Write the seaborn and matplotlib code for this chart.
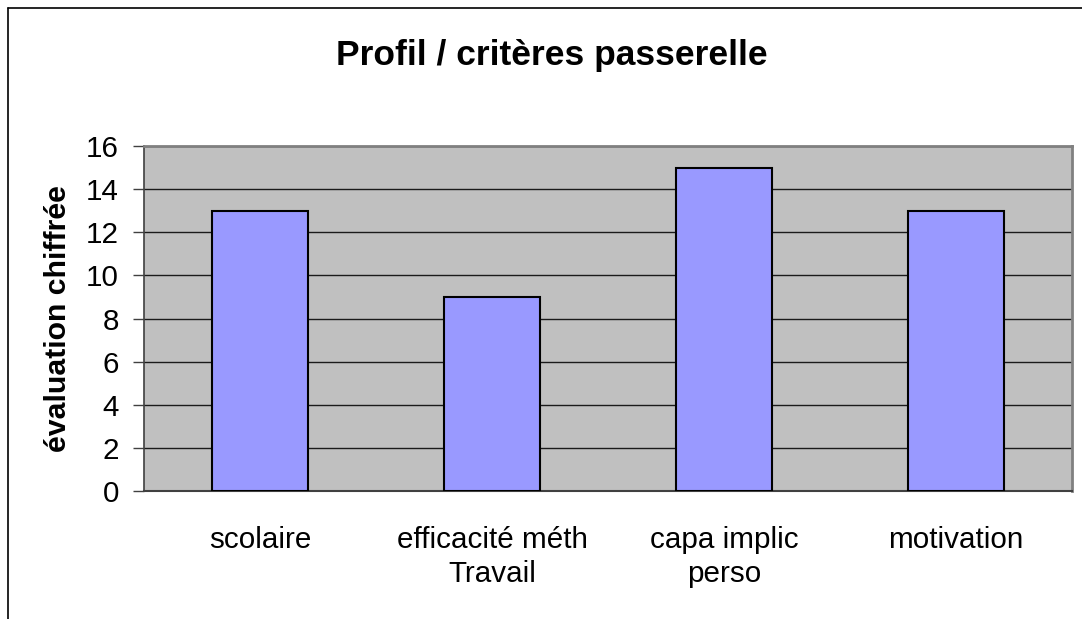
import matplotlib
matplotlib.use("Agg")
import matplotlib.pyplot as plt
from matplotlib.lines import Line2D
import seaborn as sns
import pandas as pd

categories = ["scolaire", "efficacité méth\nTravail", "capa implic\nperso", "motivation"]
values = [13, 9, 15, 13]
yticks = [0, 2, 4, 6, 8, 10, 12, 14, 16]

sns.set_style("white")
plt.rcParams["font.family"] = ["Liberation Sans", "DejaVu Sans"]
plt.rcParams["text.color"] = "black"
plt.rcParams["axes.labelcolor"] = "black"
plt.rcParams["xtick.color"] = "black"
plt.rcParams["ytick.color"] = "black"

fig = plt.figure(figsize=(10.82, 6.19), dpi=100)
ax = fig.add_axes([144 / 1082, 1 - 491 / 619, (1072 - 144) / 1082, (491 - 146) / 619])

df = pd.DataFrame({"cat": categories, "val": values})
sns.barplot(data=df, x="cat", y="val", color="#9999FF", saturation=1,
            edgecolor="black", linewidth=1.5, width=0.41, ax=ax, zorder=3)

ax.set_facecolor("#C0C0C0")
ax.set_ylim(0, 16)
ax.set_xlim(-0.5, 3.5)
ax.set_yticks(yticks)
ax.set_yticklabels([str(v) for v in yticks], fontsize=21.3)
ax.yaxis.grid(True, color="#1a1a1a", linewidth=1.0, zorder=1)
ax.set_axisbelow(True)

ax.set_xticks(range(len(categories)))
ax.set_xticklabels(categories, fontsize=21.3, linespacing=1.3)
ax.tick_params(axis="x", which="major", length=0, pad=25)
ax.set_xticks([-0.5, 0.5, 1.5, 2.5, 3.5], minor=True)
ax.tick_params(axis="x", which="minor", length=8, width=1, color="#404040", direction="out")
ax.tick_params(axis="y", length=8, width=1, color="#404040", direction="out", pad=10, left=True)

ax.set_xlabel("")
ax.set_ylabel("évaluation chiffrée", fontsize=21.8, fontweight="bold", labelpad=10)

for s in ["top", "right"]:
    ax.spines[s].set_color("#808080")
    ax.spines[s].set_linewidth(2)
ax.spines["left"].set_color("#404040")
ax.spines["bottom"].set_color("#404040")
ax.spines["left"].set_linewidth(1.2)
ax.spines["bottom"].set_linewidth(1.5)

fig.text(552 / 1082, 1 - 56 / 619, "Profil / critères passerelle", fontsize=25.5,
         fontweight="bold", ha="center", va="center")

# outer chart frame
fig.add_artist(Line2D([8 / 1082, 8 / 1082], [0, 1 - 8 / 619], color="black", linewidth=1.2,
                      transform=fig.transFigure))
fig.add_artist(Line2D([8 / 1082, 1], [1 - 8 / 619, 1 - 8 / 619], color="black", linewidth=1.2,
                      transform=fig.transFigure))

fig.savefig("out.png", dpi=100, facecolor="white")
